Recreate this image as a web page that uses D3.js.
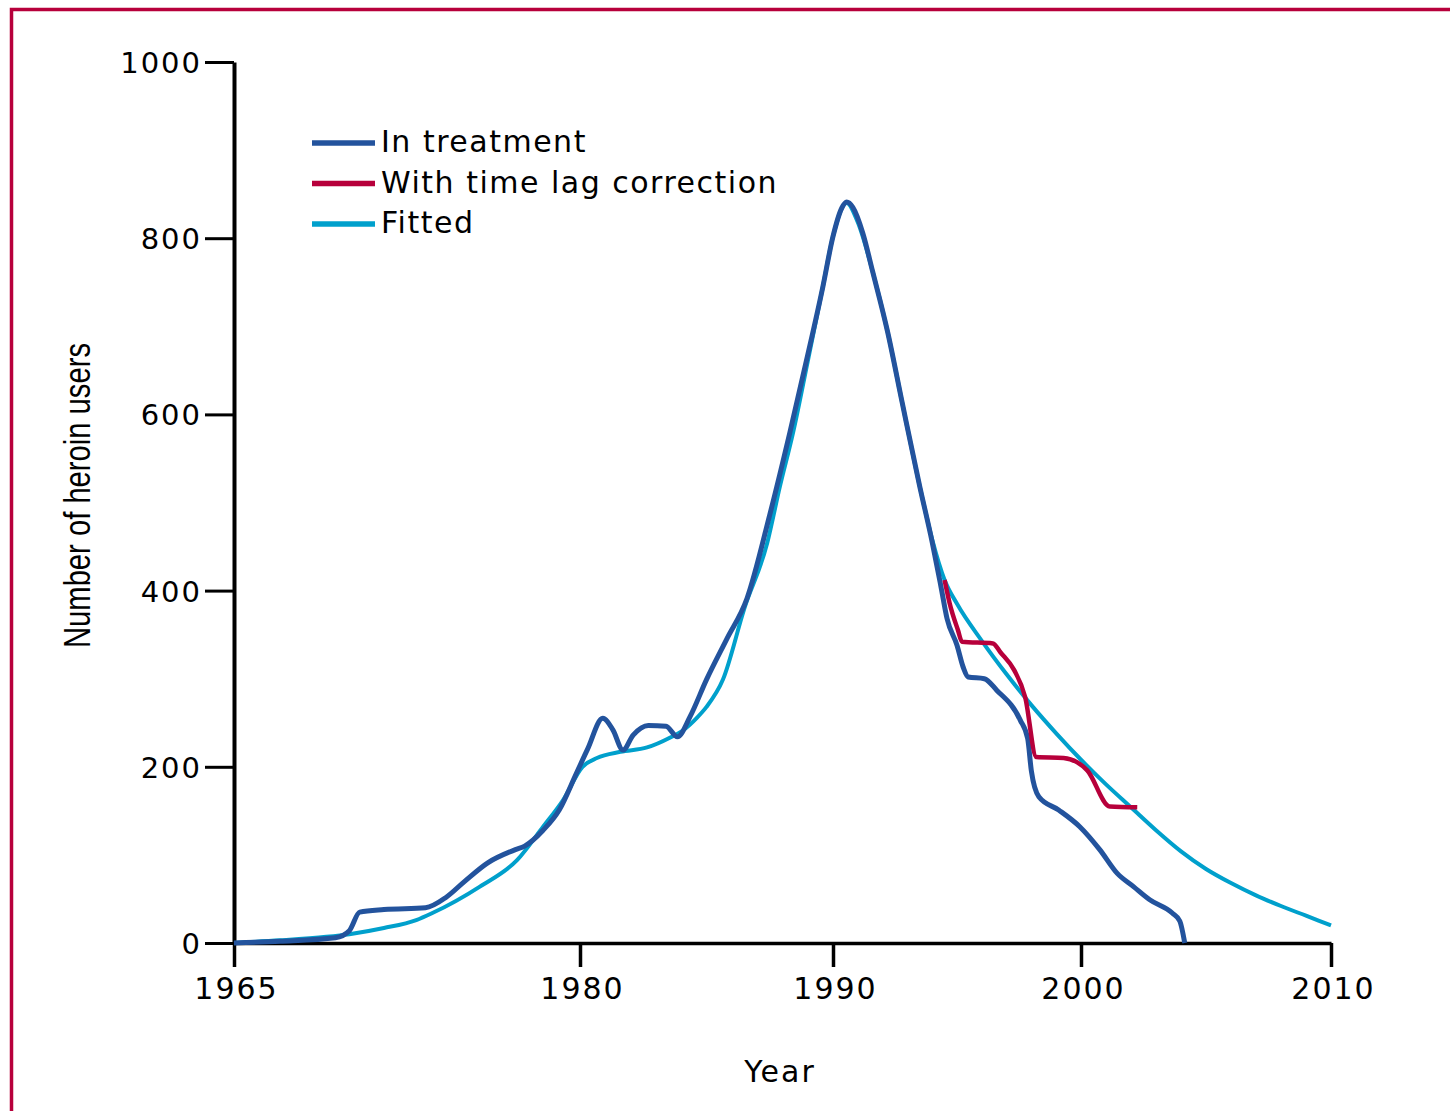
<!DOCTYPE html>
<html>
<head>
<meta charset="utf-8">
<script src="https://cdn.jsdelivr.net/npm/d3@7"></script>
<style>
  html, body { margin: 0; padding: 0; background: #fff; }
  svg { display: block; }
</style>
</head>
<body>
<svg id="chart" width="1450" height="1111"></svg>
<script>
// ---- data ----
const seriesNames = ["In treatment", "With time lag correction", "Fitted"];
const seriesColors = ["#23539d", "#b7003b", "#00a0cc"];

const treatYears  = [1965, 1967, 1969.4, 1970.0, 1970.45, 1971.5, 1973.3, 1974.2, 1975.0, 1976.0, 1977.2, 1977.6, 1978.4, 1979.1, 1979.85, 1980.3, 1980.9, 1981.3, 1981.7, 1982.1, 1982.7, 1983.4, 1983.85, 1984.35, 1985.0, 1985.8, 1986.6, 1987.5, 1988.3, 1988.95, 1989.6, 1990.0, 1990.35, 1990.55, 1990.8, 1991.2, 1991.6, 1992.2, 1992.8, 1993.5, 1994.0, 1994.35, 1994.6, 1995.0, 1995.25, 1995.45, 1996.1, 1996.6, 1997.55, 1997.85, 1998.0, 1998.3, 1999.1, 1999.95, 2000.75, 2001.45, 2002.1, 2002.75, 2003.65, 2003.95, 2004.15];
const treatValues = [0, 2, 6, 14, 35, 38, 40, 52, 70, 91, 106, 110, 128, 151, 193, 220, 255, 242, 219, 236, 247, 246, 234, 257, 299, 345, 391, 486, 580, 661, 745, 802, 834, 841, 835, 806, 762, 694, 612, 518, 455, 405, 368, 338, 313, 302, 300, 287, 253, 232, 195, 166, 151, 132, 106, 79, 64, 49, 34, 25, 0];

const lagYears  = [1994.5, 1994.7, 1995.04, 1995.2, 1996.45, 1996.75, 1997.3, 1997.75, 1998.2, 1999.3, 1999.85, 2000.25, 2001.15, 2002.25];
const lagValues = [412, 386, 355, 342, 340, 330, 310, 279, 211, 210, 205, 196, 155, 154];

const fitYears  = [1965, 1967, 1969, 1970, 1971.5, 1972.9, 1973.6, 1975.66, 1977.27, 1978.4, 1979.26, 1980.1, 1980.67, 1981.6, 1982.65, 1983.55, 1984.1, 1984.6, 1985.0, 1985.65, 1986.5, 1987.4, 1987.9, 1988.42, 1989.0, 1989.6, 1990.0, 1990.55, 1991.0, 1991.6, 1992.2, 1992.8, 1993.5, 1994.0, 1994.5, 1995, 1996, 1997, 1998, 1999, 2000, 2001, 2002, 2003, 2004, 2005, 2006, 2007, 2008, 2009, 2010];
const fitValues = [0, 3, 7, 10, 17, 26, 34, 64, 94, 132, 162, 200, 210, 217, 222, 233, 242, 255, 268, 299, 380, 454, 518, 579, 660, 745, 802, 840, 818, 762, 694, 612, 518, 458, 412, 385, 343, 305, 270, 238, 208, 180, 154, 128, 104, 84, 68, 54, 42, 31, 20];

const xTicks = [1965, 1980, 1990, 2000, 2010];
const yTicks = [0, 200, 400, 600, 800, 1000];
const xTitle = "Year";
const yTitle = "Number of heroin users";

// ---- drawing ----
const svg = d3.select("#chart");

// frame (top and left crimson border)
svg.append("path")
  .attr("d", "M11.5,1111 V9.5 H1450")
  .attr("fill", "none")
  .attr("stroke", "#b7003b")
  .attr("stroke-width", 3.5);

// the original axis is drawn piecewise (1965-1980 is compressed)
const x = d3.scaleLinear()
  .domain(xTicks)
  .range([234, 580, 833, 1081, 1331]);
const y = d3.scaleLinear().domain([0, 1000]).range([943, 62]);

const fontTicks = "'DejaVu Sans', Verdana, sans-serif";

// y axis
const gy = svg.append("g")
  .attr("transform", `translate(${x.range()[0]},0)`)
  .call(d3.axisLeft(y).tickValues(yTicks).tickSize(29).tickSizeOuter(0).tickFormat(d3.format("d")));
gy.select(".domain").attr("stroke", "#000").attr("stroke-width", 4);
gy.selectAll(".tick line").attr("stroke", "#000").attr("stroke-width", 3);
gy.selectAll(".tick text")
  .attr("x", -32)
  .attr("dy", "0.36em")
  .attr("fill", "#000")
  .style("font-family", fontTicks)
  .style("font-size", "29px")
  .style("letter-spacing", "2px");

// x axis
const gx = svg.append("g")
  .attr("transform", `translate(0,${y(0)})`)
  .call(d3.axisBottom(x).tickValues(xTicks).tickSize(24).tickSizeOuter(0).tickFormat(d3.format("d")));
gx.select(".domain").attr("stroke", "#000").attr("stroke-width", 3.5);
gx.selectAll(".tick line").attr("stroke", "#000").attr("stroke-width", 3.5);
gx.selectAll(".tick text")
  .attr("y", 56)
  .attr("dy", "0")
  .attr("dx", "2")
  .attr("fill", "#000")
  .style("font-family", fontTicks)
  .style("font-size", "30px")
  .style("letter-spacing", "2px");
gy.raise();

// axis titles
svg.append("text")
  .attr("x", 780).attr("y", 1082)
  .attr("text-anchor", "middle")
  .style("font-family", fontTicks)
  .style("font-size", "30px")
  .style("letter-spacing", "2px")
  .text(xTitle);

svg.append("text")
  .attr("transform", "translate(90,495.5) rotate(-90)")
  .attr("text-anchor", "middle")
  .attr("textLength", 305)
  .attr("lengthAdjust", "spacingAndGlyphs")
  .style("font-family", "'Liberation Sans', Arial, sans-serif")
  .style("font-size", "36px")
  .text(yTitle);

// lines
const line = d3.line()
  .x(d => x(d[0]))
  .y(d => y(d[1]))
  .curve(d3.curveMonotoneX);

const series = [
  { name: seriesNames[2], color: seriesColors[2], width: 4,   pts: d3.zip(fitYears, fitValues) },
  { name: seriesNames[0], color: seriesColors[0], width: 5,   pts: d3.zip(treatYears, treatValues) },
  { name: seriesNames[1], color: seriesColors[1], width: 4.5, pts: d3.zip(lagYears, lagValues) }
];

svg.append("g").selectAll("path")
  .data(series)
  .join("path")
  .attr("d", d => line(d.pts))
  .attr("fill", "none")
  .attr("stroke", d => d.color)
  .attr("stroke-width", d => d.width)
  .attr("stroke-linejoin", "round");

// legend
const lg = svg.append("g");
const legendY = d3.scalePoint().domain(seriesNames).range([143, 224]);
seriesNames.forEach((n, i) => {
  lg.append("line")
    .attr("x1", 312).attr("x2", 375)
    .attr("y1", legendY(n)).attr("y2", legendY(n))
    .attr("stroke", seriesColors[i])
    .attr("stroke-width", 5.5);
  lg.append("text")
    .attr("x", 381)
    .attr("y", legendY(n) + 9)
    .style("font-family", fontTicks)
    .style("font-size", "30px")
    .style("letter-spacing", "1.5px")
    .attr("fill", "#000")
    .text(n);
});
</script>
</body>
</html>
